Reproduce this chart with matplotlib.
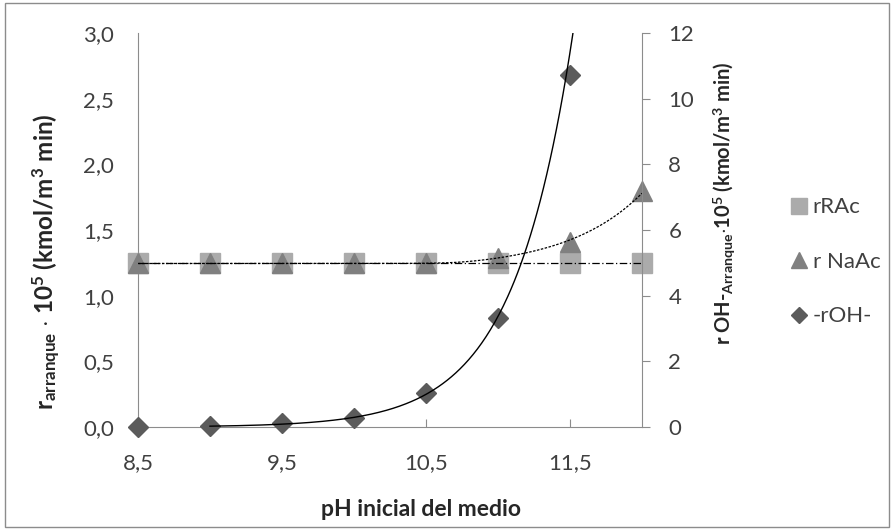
import numpy as np
import matplotlib
matplotlib.use("Agg")
import matplotlib.pyplot as plt
from matplotlib.patches import Rectangle

plt.rcParams['font.family'] = ['Lato', 'DejaVu Sans']
plt.rcParams['mathtext.fontset'] = 'custom'
plt.rcParams['mathtext.rm'] = 'Lato'
plt.rcParams['mathtext.bf'] = 'Lato:bold'
plt.rcParams['mathtext.it'] = 'Lato:italic'

# pH values and start-up rates
ph = [8.5, 9.0, 9.5, 10.0, 10.5, 11.0, 11.5, 12.0]
r_rac = [1.25, 1.25, 1.25, 1.25, 1.25, 1.25, 1.25, 1.25]
r_naac = [1.25, 1.25, 1.25, 1.25, 1.25, 1.29, 1.41, 1.80]
ph_oh = [8.5, 9.0, 9.5, 10.0, 10.5, 11.0, 11.5]
r_oh = [0.0, 0.02, 0.12, 0.28, 1.04, 3.32, 10.73]

x_ticks = [8.5, 9.5, 10.5, 11.5]
x_ticklabels = ["8,5", "9,5", "10,5", "11,5"]
yl_ticks = [0.0, 0.5, 1.0, 1.5, 2.0, 2.5, 3.0]
yl_ticklabels = ["0,0", "0,5", "1,0", "1,5", "2,0", "2,5", "3,0"]
yr_ticks = [0, 2, 4, 6, 8, 10, 12]

c_rac = "#ABABAB"
c_naac = "#808080"
c_oh = "#5B5B5B"
c_axis = "#8C8C8C"
c_text = "#404040"

fig = plt.figure(figsize=(8.93, 5.29), dpi=100)
fig.patches.append(Rectangle((0.006, 0.004), 0.990, 0.990, transform=fig.transFigure,
                             fill=False, edgecolor="#8C8C8C", linewidth=1.0))

ax = fig.add_axes([0.1545, 0.1928, 0.5644, 0.7448])
ax2 = ax.twinx()

ax.set_xlim(8.5, 12.0)
ax.set_ylim(0, 3.0)
ax2.set_ylim(0, 12)

xs = np.linspace(8.5, 12.0, 300)

# linear trend for rRAc
p = np.polyfit(ph, r_rac, 1)
ax.plot(xs, np.polyval(p, xs), color="black", lw=0.9, ls=(0, (6, 2, 1, 2)), zorder=4)

# exponential (offset) trend for r NaAc, smoothly floored at the plateau
naac = np.array(r_naac)
floor = naac.min() - 0.005
base = naac.min() - 0.05
m = (naac - naac.min()) > 0.01
b, a = np.polyfit(np.array(ph)[m], np.log(naac[m] - base), 1)
f = base + np.exp(a + b * xs)
k = 120.0
trend_naac = floor + np.logaddexp(0.0, k * (f - floor)) / k
ax.plot(xs, trend_naac, color="black", lw=0.9, ls=(0, (2, 1.2)), zorder=4)

ax.plot(ph, r_rac, ls="none", marker="s", ms=15, color=c_rac, mec=c_rac,
        clip_on=False, zorder=3, label="rRAc")
ax.plot(ph, r_naac, ls="none", marker="^", ms=15, color=c_naac, mec=c_naac,
        clip_on=False, zorder=3.5, label="r NaAc")

# exponential trend for -rOH- (positive values only)
oh = np.array(r_oh)
xo = np.array(ph_oh)
mo = oh > 0
bo, ao = np.polyfit(xo[mo], np.log(oh[mo]), 1)
xs2 = np.linspace(xo[mo].min(), 12.0, 400)
ax2.plot(xs2, np.exp(ao + bo * xs2), color="black", lw=1.0, zorder=4)
ax2.plot(ph_oh, r_oh, ls="none", marker="D", ms=10.5, color=c_oh, mec=c_oh,
         clip_on=False, zorder=3, label="-rOH-")

for a_ in (ax, ax2):
    for s in a_.spines.values():
        s.set_color(c_axis)
    a_.spines["top"].set_visible(False)
ax.spines["right"].set_visible(False)
ax2.spines["left"].set_visible(False)
ax2.spines["bottom"].set_visible(False)

ax.set_xticks(x_ticks)
ax.set_xticklabels(x_ticklabels)
ax.set_yticks(yl_ticks)
ax.set_yticklabels(yl_ticklabels)
ax2.set_yticks(yr_ticks)
ax.tick_params(axis="x", direction="in", length=6, color=c_axis, labelsize=16,
               labelcolor=c_text, pad=19)
ax.tick_params(axis="y", length=0, labelsize=16, labelcolor=c_text, pad=17)
ax2.tick_params(axis="y", direction="out", length=6, color=c_axis, labelsize=16,
                labelcolor=c_text, pad=13)

ax.set_xlabel("pH inicial del medio", fontsize=16.5, fontweight="bold", color="#262626")
ax.xaxis.set_label_coords(0.5615, -0.183)
ax.set_ylabel(r"r$_{\mathregular{arranque}}$ $\mathbf{\cdot}$ 10$^{\mathregular{5}}$ (kmol/m$^{\mathregular{3}}$ min)",
              fontsize=17.5, fontweight="bold", color="#262626")
ax.yaxis.set_label_coords(-0.151, 0.42)
ax2.set_ylabel(r"r OH-$_{\mathregular{Arranque}}$$\mathbf{\cdot}$10$^{\mathregular{5}}$ (kmol/m$^{\mathregular{3}}$ min)",
               fontsize=14.5, fontweight="bold", color="#262626")
ax2.yaxis.set_label_coords(1.137, 0.567)

h1, l1 = ax.get_legend_handles_labels()
h2, l2 = ax2.get_legend_handles_labels()
fig.legend(h1 + h2, l1 + l2, loc="center left", bbox_to_anchor=(0.864, 0.505),
           frameon=False, fontsize=16, labelspacing=1.55, handlelength=0.7,
           handletextpad=0.25, markerscale=0.8, labelcolor=c_text)

fig.savefig("out.png", dpi=100)
